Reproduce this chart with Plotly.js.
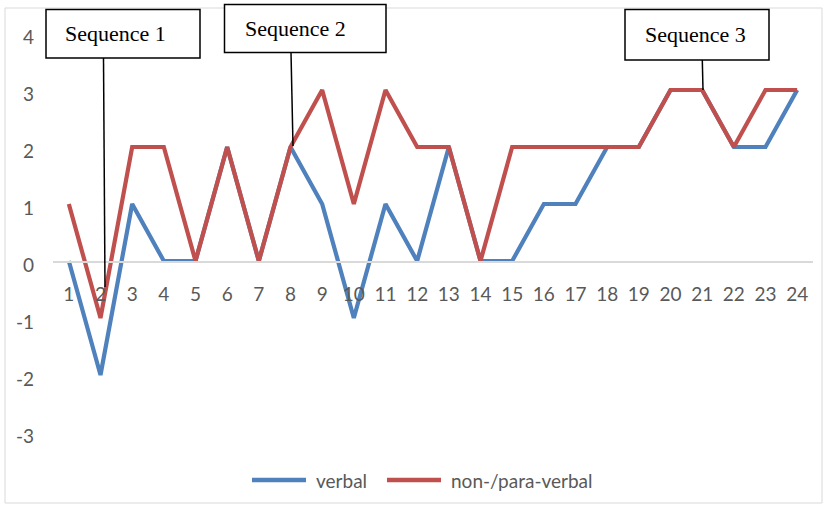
<!DOCTYPE html>
<html>
<head>
<meta charset="utf-8">
<script src="https://cdn.plot.ly/plotly-3.0.1.min.js"></script>
<style>html,body{margin:0;padding:0;background:#fff;}#chart{width:827px;height:506px;}</style>
</head>
<body>
<div id="chart"></div>
<script>
const categories = ["1","2","3","4","5","6","7","8","9","10","11","12","13","14","15","16","17","18","19","20","21","22","23","24"];
const verbal =      [0,-2,1,0,0,2,0,2,1,-1,1,0,2,0,0,1,1,2,2,3,3,2,2,3];
const nonParaVerbal = [1,-1,2,2,0,2,0,2,3,1,3,2,2,0,2,2,2,2,2,3,3,2,3,3];
const seriesNames = ["verbal","non-/para-verbal"];
const seriesColors = ["#4F81BD","#C0504D"];
const yTicks = [-3,-2,-1,0,1,2,3,4];
const sequenceLabels = ["Sequence 1","Sequence 2","Sequence 3"];

const W = 827, H = 506;
const L = 53, R = 813, T = 33, B = 432;
const px = x => (x - L) / (R - L);
const py = y => (B - y) / (B - T);

const xIdx = categories.map((c, i) => i + 1);

const traces = [
  {x: xIdx, y: verbal, name: seriesNames[0], type: 'scatter', mode: 'lines',
   line: {color: seriesColors[0], width: 4.2}},
  {x: xIdx, y: nonParaVerbal, name: seriesNames[1], type: 'scatter', mode: 'lines',
   line: {color: seriesColors[1], width: 4.2}}
];

// annotation boxes (pixel geometry)
const boxes = [
  {x0: 46, x1: 200, y0: 9.5, y1: 58, tx: 115.5, ty: 33, lx0: 103.5, ly0: 58, lx1: 105, ly1: 287},
  {x0: 224.5, x1: 386, y0: 4.5, y1: 52.5, tx: 295.5, ty: 28, lx0: 291, ly0: 52.5, lx1: 293, ly1: 146},
  {x0: 625, x1: 769, y0: 9.5, y1: 60, tx: 695, ty: 34, lx0: 702.3, ly0: 60, lx1: 703, ly1: 90}
];

const shapes = [
  {type: 'rect', xref: 'paper', yref: 'paper', x0: px(5), x1: px(822), y0: py(503), y1: py(8),
   line: {color: '#d9d9d9', width: 1}, fillcolor: 'rgba(0,0,0,0)', layer: 'below'}
];
const annotations = [];
boxes.forEach((b, i) => {
  shapes.push({type: 'line', xref: 'paper', yref: 'paper', x0: px(b.lx0), y0: py(b.ly0), x1: px(b.lx1), y1: py(b.ly1),
    line: {color: '#000', width: 1.5}, layer: 'above'});
  shapes.push({type: 'rect', xref: 'paper', yref: 'paper', x0: px(b.x0), x1: px(b.x1), y0: py(b.y1), y1: py(b.y0),
    line: {color: '#000', width: 1.5}, fillcolor: '#fff', layer: 'above'});
  annotations.push({xref: 'paper', yref: 'paper', x: px(b.tx), y: py(b.ty), xanchor: 'center', yanchor: 'middle',
    text: sequenceLabels[i], showarrow: false, font: {family: 'Liberation Serif, Times New Roman, serif', size: 22, color: '#000'}});
});

// custom legend (swatch line + text)
const legendItems = [
  {lx0: 252, lx1: 306, tx: 314},
  {lx0: 387, lx1: 441, tx: 449}
];
const legY = 480;
legendItems.forEach((it, i) => {
  shapes.push({type: 'line', xref: 'paper', yref: 'paper', x0: px(it.lx0), x1: px(it.lx1), y0: py(legY), y1: py(legY),
    line: {color: seriesColors[i], width: 4.5}, layer: 'above'});
  annotations.push({xref: 'paper', yref: 'paper', x: px(it.tx), y: py(legY), xanchor: 'left', yanchor: 'middle',
    text: seriesNames[i], showarrow: false, font: {family: 'Lato, sans-serif', size: 19, color: '#595959'}});
});

const layout = {
  width: W, height: H,
  margin: {l: L, r: W - R, t: T, b: H - B, pad: 0, autoexpand: false},
  paper_bgcolor: '#fff', plot_bgcolor: 'rgba(0,0,0,0)',
  font: {family: 'Lato, Calibri, sans-serif', size: 19, color: '#595959'},
  showlegend: false,
  xaxis: {
    range: [0.5, 24.5], tickmode: 'array', tickvals: xIdx, ticktext: categories,
    anchor: 'free', position: 3/7, showline: true, linecolor: '#d9d9d9', linewidth: 1.5,
    showgrid: false, zeroline: false, ticks: '', ticklabelstandoff: 16, automargin: false,
    tickfont: {family: 'Lato, sans-serif', size: 19, color: '#595959'}
  },
  yaxis: {
    range: [-3, 4], tickmode: 'array', tickvals: yTicks, ticktext: yTicks.map(String),
    showgrid: false, zeroline: false, showline: false, ticks: '', ticklabelstandoff: 18,
    ticklabelshift: 4, automargin: false,
    tickfont: {family: 'Lato, sans-serif', size: 19, color: '#595959'}
  },
  shapes: shapes,
  annotations: annotations
};

Plotly.newPlot('chart', traces, layout, {displayModeBar: false, staticPlot: true});
</script>
</body>
</html>
